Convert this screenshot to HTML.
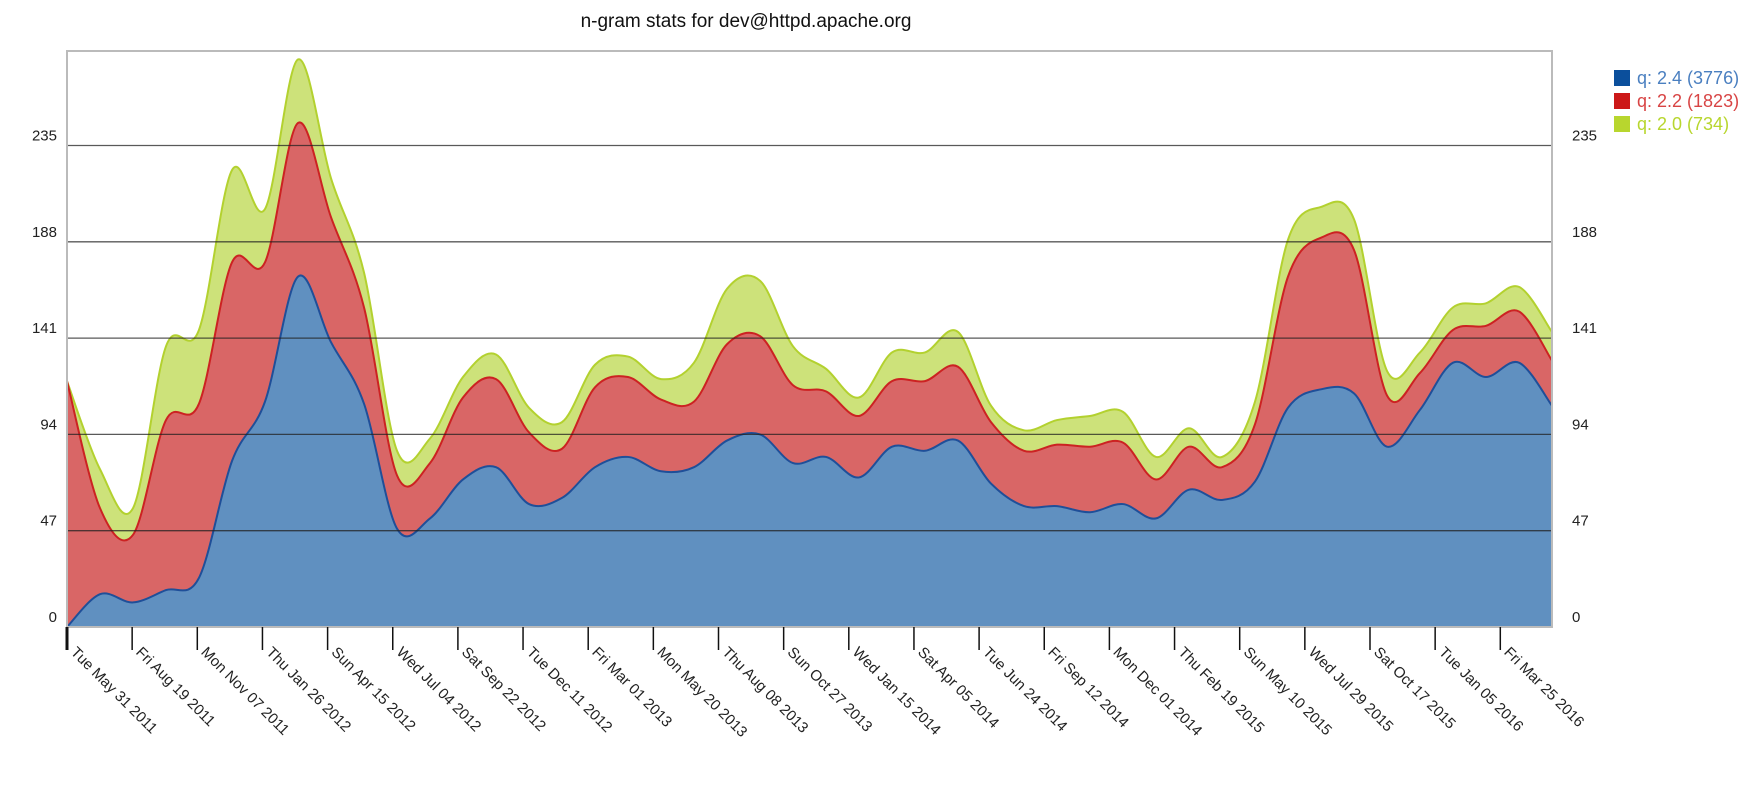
<!DOCTYPE html>
<html><head><meta charset="utf-8">
<style>
html,body{margin:0;padding:0;background:#fff;}
svg{display:block;font-family:"Liberation Sans",Arial,sans-serif;}
</style></head>
<body>
<svg id="chart" width="1760" height="795" viewBox="0 0 1760 795" xmlns="http://www.w3.org/2000/svg">
<text x="746" y="27" font-size="19" text-anchor="middle" fill="#111">n-gram stats for dev@httpd.apache.org</text>
<g id="areas"></g>
<g id="grid"></g>
<rect x="67" y="51" width="1485" height="576" fill="none" stroke="#bbb" stroke-width="2"/>
<g id="yaxis"></g>
<g id="xaxis"></g>
<g id="legend"></g>
</svg>
<script>
const yTicks = [0, 47, 94, 141, 188, 235];
const xLabels = ["Tue May 31 2011","Fri Aug 19 2011","Mon Nov 07 2011","Thu Jan 26 2012","Sun Apr 15 2012","Wed Jul 04 2012","Sat Sep 22 2012","Tue Dec 11 2012","Fri Mar 01 2013","Mon May 20 2013","Thu Aug 08 2013","Sun Oct 27 2013","Wed Jan 15 2014","Sat Apr 05 2014","Tue Jun 24 2014","Fri Sep 12 2014","Mon Dec 01 2014","Thu Feb 19 2015","Sun May 10 2015","Wed Jul 29 2015","Sat Oct 17 2015","Tue Jan 05 2016","Fri Mar 25 2016"];
const seriesNames = ["q: 2.4 (3776)", "q: 2.2 (1823)", "q: 2.0 (734)"];
const blueVals = [0,16,12,18,24,81,110,171,139,109,48,53,72,78,60,63,78,83,76,78,91,94,80,83,73,88,86,91,70,59,59,56,60,53,67,62,71,107,116,114,88,106,129,122,129,108];
const redVals = [120,42,33,83,85,97,68,75,61,47,26,27,40,43,35,24,39,39,35,32,47,48,38,32,30,32,34,36,30,27,30,32,30,19,21,16,28,64,74,70,25,18,16,25,25,22];
const greenVals = [0,19,13,36,36,45,26,31,19,17,12,12,10,12,12,13,11,10,10,19,27,27,19,11,9,14,14,17,8,10,12,15,15,11,9,5,11,18,15,15,12,10,11,11,12,14];

const NS = "http://www.w3.org/2000/svg";
const L = 67, R = 1552, B = 627, PXU = 96.3/47;
function xS(i){ return L + (R-L) * i / (blueVals.length-1); }
function yS(v){ return B - v*PXU; }
function xTick(i){ return L + i*65.15; }

function mk(tag, attrs, parent){
  const e = document.createElementNS(NS, tag);
  for (const k in attrs) e.setAttribute(k, attrs[k]);
  parent.appendChild(e); return e;
}
function curve(pts){
  let d = "M" + pts[0][0] + "," + pts[0][1];
  for (let i=0;i<pts.length-1;i++){
    const p0 = pts[Math.max(0,i-1)], p1 = pts[i], p2 = pts[i+1], p3 = pts[Math.min(pts.length-1,i+2)];
    const t = 6;
    const c1x = p1[0] + (p2[0]-p0[0])/t, c1y = p1[1] + (p2[1]-p0[1])/t;
    const c2x = p2[0] - (p3[0]-p1[0])/t, c2y = p2[1] - (p3[1]-p1[1])/t;
    d += " C" + c1x + "," + c1y + " " + c2x + "," + c2y + " " + p2[0] + "," + p2[1];
  }
  return d;
}
const top1 = blueVals.map(v=>v);
const top2 = blueVals.map((v,i)=>v+redVals[i]);
const top3 = top2.map((v,i)=>v+greenVals[i]);
const areas = document.getElementById("areas");
const layers = [
  {top: top3, fill:"#cde27a", stroke:"#b3d12f", name:"area-q-2-0"},
  {top: top2, fill:"#d96666", stroke:"#cc2222", name:"area-q-2-2"},
  {top: top1, fill:"#6090c0", stroke:"#1f4f99", name:"area-q-2-4"}
];
layers.forEach(ly=>{
  const pts = ly.top.map((v,i)=>[xS(i), yS(v)]);
  const line = curve(pts);
  const a = mk("path", {d: line + " L" + R + "," + B + " L" + L + "," + B + " Z", fill: ly.fill}, areas);
  
  
  const s = mk("path", {d: line, fill:"none", stroke: ly.stroke, "stroke-width": 2}, areas);
  
  
});
const grid = document.getElementById("grid");
const yaxis = document.getElementById("yaxis");
yTicks.forEach(t=>{
  const y = yS(t);
  if (t>0){
    const g = mk("line", {x1:L, x2:R, y1:y, y2:y, stroke:"#222", "stroke-opacity":0.75, "stroke-width":1.3}, grid);
    
    
  }
  const lt = mk("text", {x:57, y:y-5, "font-size":15, "text-anchor":"end", fill:"#222"}, yaxis);
  lt.textContent = t;
  
  
  const rt = mk("text", {x:1572, y:y-5, "font-size":15, fill:"#222"}, yaxis);
  rt.textContent = t;
  
  
});
const xaxis = document.getElementById("xaxis");
xLabels.forEach((lab,i)=>{
  const x = xTick(i);
  const tk = mk("line", {x1:x, x2:x, y1:B, y2:650, stroke:"#111", "stroke-width": i===0?3:1.5}, xaxis);
  
  
  const tx = mk("text", {x:0, y:0, "font-size":15, fill:"#222", transform:"translate(" + (x+3) + ",653) rotate(45)"}, xaxis);
  tx.textContent = lab;
  
  
});
const legend = document.getElementById("legend");
const legColors = ["#0b4f9c", "#cc1818", "#b8d62e"];
const legText = ["#4a7fc0", "#d84444", "#b8d62e"];
seriesNames.forEach((n,i)=>{
  const y = 70 + i*23;
  const r = mk("rect", {x:1614, y:y, width:16, height:16, fill:legColors[i]}, legend);
  
  
  const t = mk("text", {x:1637, y:y+14, "font-size":18, fill:legText[i]}, legend);
  t.textContent = n;
  
  
});
</script>
</body></html>
